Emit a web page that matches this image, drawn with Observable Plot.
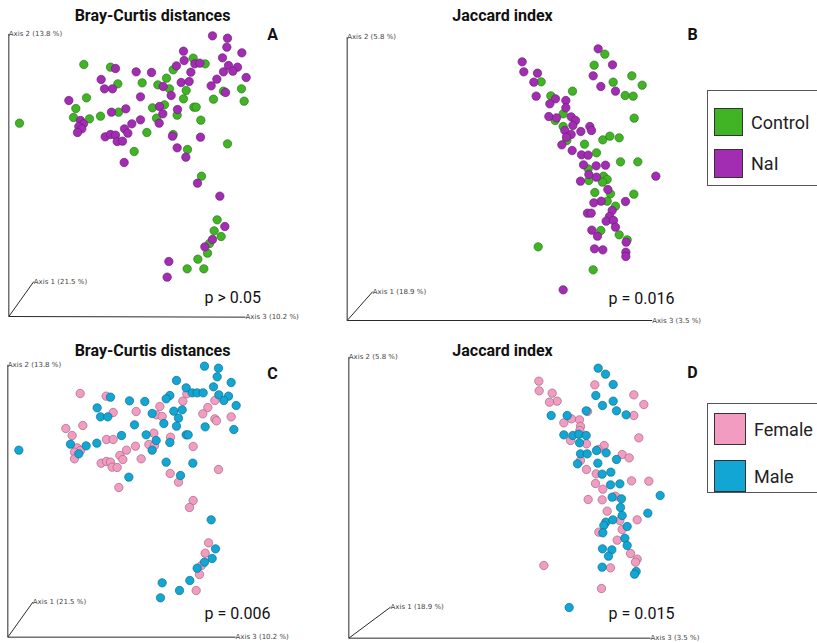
<!DOCTYPE html>
<html>
<head>
<meta charset="utf-8">
<script src="https://cdn.jsdelivr.net/npm/d3@7"></script>
<script src="https://cdn.jsdelivr.net/npm/@observablehq/plot@0.6"></script>
<style>
  body { margin: 0; background: #fff; }
  #root { position: relative; width: 817px; height: 643px; overflow: hidden; background: #fff; font-family: "Liberation Sans", Arial, sans-serif; }
  .panel { position: absolute; }
  .legend { position: absolute; border: 1.5px solid #555; background: #fff; box-sizing: border-box; }
  .legend .row { position: absolute; display: flex; align-items: center; }
  .legend .sw { border: 1.2px solid #333; box-sizing: border-box; }
  .legend .lab { font-family: Roboto, "Liberation Sans", sans-serif; font-size: 18px; color: #222; margin-left: 8px; }
</style>
</head>
<body>
<div id="root"></div>
<script>
// Projected ordination coordinates (arbitrary display units, y grows downward)
const bcControl = [[578,173],[614,190],[250,192],[330,200],[518,208],[352,250],[425,247],[498,233],[472,253],[507,265],[557,270],[669,272],[723,265],[258,292],[549,295],[639,296],[731,302],[226,324],[456,322],[492,313],[354,335],[580,320],[587,320],[219,351],[267,355],[300,347],[468,353],[530,344],[601,359],[57,368],[439,396],[518,402],[681,430],[401,453],[561,447],[603,527],[650,658],[641,691],[662,708],[627,729],[621,758],[592,776],[560,805],[610,805]];
const bcNaI = [[636,106],[681,113],[679,140],[549,152],[724,157],[666,172],[551,180],[528,196],[583,190],[598,188],[684,195],[711,200],[669,214],[697,212],[345,204],[407,214],[453,216],[571,215],[737,231],[649,236],[302,237],[542,246],[566,243],[488,258],[312,265],[336,265],[632,256],[675,276],[420,289],[512,285],[205,300],[477,318],[376,325],[333,335],[531,327],[487,340],[420,358],[240,360],[249,370],[235,378],[244,385],[231,396],[476,368],[394,370],[372,385],[382,398],[314,409],[330,402],[345,404],[350,423],[366,422],[516,407],[600,410],[530,442],[556,470],[371,486],[591,548],[658,587],[673,678],[636,717],[613,739],[505,783],[500,830]];
const jcControl = [[793,161],[761,194],[874,226],[818,245],[905,254],[602,244],[696,272],[854,285],[878,287],[631,286],[668,340],[644,360],[881,353],[668,378],[679,420],[787,418],[808,407],[836,412],[732,431],[768,457],[840,484],[892,484],[743,505],[789,527],[800,537],[745,540],[786,545],[763,576],[810,580],[880,581],[800,602],[825,617],[781,690],[836,703],[860,718],[593,739],[758,808]];
const jcNaI = [[773,145],[545,184],[816,193],[550,214],[591,218],[758,226],[580,245],[781,258],[825,272],[587,287],[645,295],[628,310],[676,300],[676,322],[625,348],[648,352],[692,349],[705,360],[697,375],[673,390],[748,378],[753,390],[721,393],[692,402],[678,410],[664,433],[695,450],[723,463],[743,464],[729,493],[767,496],[795,494],[946,527],[745,522],[768,530],[720,542],[802,567],[782,602],[760,607],[855,603],[815,630],[741,638],[752,638],[807,648],[797,662],[819,660],[825,680],[754,689],[771,707],[857,725],[762,745],[787,748],[856,755],[856,768],[668,868]];
const bcFemale = [[559,175],[239,174],[317,182],[547,197],[643,195],[478,213],[407,228],[338,231],[622,216],[607,235],[468,238],[485,243],[692,244],[643,250],[648,256],[247,270],[196,279],[215,300],[460,293],[510,305],[318,312],[338,312],[445,327],[462,330],[578,333],[230,337],[240,345],[222,350],[405,332],[378,344],[358,360],[367,372],[222,370],[302,383],[318,378],[330,380],[335,395],[350,396],[422,370],[654,402],[509,414],[534,440],[355,456],[578,495],[567,516],[624,622],[614,653],[603,690],[597,717],[587,765]];
const bcMale = [[612,92],[654,98],[650,124],[528,135],[692,141],[557,157],[639,154],[575,172],[590,172],[608,172],[330,185],[508,180],[497,190],[655,178],[684,182],[670,195],[707,210],[387,196],[433,198],[290,217],[520,227],[545,223],[455,234],[534,248],[300,244],[322,244],[490,264],[402,268],[528,272],[614,274],[700,282],[363,300],[437,298],[557,298],[563,298],[467,315],[210,326],[257,331],[289,323],[508,321],[235,355],[55,344],[455,344],[497,380],[577,383],[540,420],[385,425],[632,553],[645,640],[635,669],[612,680],[590,698],[568,735],[485,742],[537,765],[480,787]];
const jcFemale = [[595,137],[763,148],[596,166],[635,173],[650,197],[627,200],[880,178],[910,207],[880,240],[741,228],[693,250],[717,253],[670,262],[720,273],[718,285],[690,315],[738,325],[895,307],[791,330],[773,342],[720,375],[845,357],[866,367],[738,402],[767,415],[873,436],[925,437],[765,444],[787,461],[743,492],[785,493],[825,482],[800,527],[838,555],[890,553],[775,590],[845,582],[830,614],[870,654],[890,671],[885,680],[810,697],[610,690],[783,759]];
const jcMale = [[773,98],[795,116],[818,147],[766,180],[818,197],[786,210],[828,226],[857,238],[737,226],[632,240],[680,240],[670,298],[697,300],[715,296],[737,300],[717,322],[768,345],[797,352],[720,355],[740,355],[711,385],[828,372],[772,383],[785,416],[811,410],[810,448],[838,445],[959,480],[815,485],[843,490],[840,516],[922,533],[845,540],[796,560],[817,553],[790,570],[860,573],[787,592],[853,608],[860,630],[786,640],[814,643],[804,662],[785,695],[887,708],[882,716],[686,816]];

// Axis triads: origin and end points of the three projected axes
const axisLabelsBC = ["Axis 1 (21.5 %)", "Axis 2 (13.8 %)", "Axis 3 (10.2 %)"];
const axisLabelsJC = ["Axis 1 (18.9 %)", "Axis 2 (5.8 %)", "Axis 3 (3.5 %)"];
const axesA = {origin: [25,948], ends: [[100,843],[25,100],[735,950]]};
const axesB = {origin: [20,960], ends: [[97,873],[20,110],[935,960]]};
const axesC = {origin: [22,905], ends: [[97,800],[22,88],[705,905]]};
const axesD = {origin: [25,908], ends: [[150,815],[25,65],[930,908]]};

const treatmentGroups = ["Control", "NaI"];
const treatmentColors = ["#40b424", "#a22db2"];
const sexGroups = ["Female", "Male"];
const sexColors = ["#f29cc2", "#12a6d5"];

const titles = ["Bray-Curtis distances", "Jaccard index"];
const letters = ["A", "B", "C", "D"];
const pValues = ["p > 0.05", "p = 0.016", "p = 0.006", "p = 0.015"];

const root = document.getElementById("root");

function panel(cfg) {
  const {W, H, left, top, series, colors, groups, axes, axisLabels, title, titleX, letter, letterX, letterY, pText, pX, pY} = cfg;
  const axisRows = axes.ends.map((e, i) => ({x1: axes.origin[0], y1: axes.origin[1], x2: e[0], y2: e[1], label: axisLabels[i]}));
  const dotMarks = series.map((arr, i) => Plot.dot(arr, {
    x: d => d[0], y: d => d[1], r: 4.2,
    fill: colors[i], stroke: d3.color(colors[i]).darker(1.3).formatHex(),
    strokeWidth: 0.8, strokeOpacity: 0.8
  }));
  const svg = Plot.plot({
    width: W, height: H,
    margin: 0,
    x: {domain: [0, W * 3], range: [0, W], axis: null},
    y: {domain: [0, H * 3], range: [0, H], axis: null},
    style: {background: "transparent"},
    marks: [
      Plot.link(axisRows, {x1: "x1", y1: "y1", x2: "x2", y2: "y2", stroke: "#2a2a2a", strokeWidth: 1}),
      Plot.text(axisRows, {x: "x2", y: "y2", text: "label", textAnchor: "start", fontSize: 7, fill: "#444", fontFamily: "DejaVu Sans, sans-serif"}),
      ...dotMarks,
      Plot.text([title], {frameAnchor: "top-left", dx: titleX, dy: 15, textAnchor: "middle", lineAnchor: "middle", fontSize: 16, fontWeight: "bold", fill: "#111", fontFamily: "Roboto, Liberation Sans, sans-serif"}),
      Plot.text([letter], {frameAnchor: "top-left", dx: letterX, dy: letterY, textAnchor: "middle", lineAnchor: "middle", fontSize: 16, fontWeight: "bold", fill: "#111", fontFamily: "Roboto, Liberation Sans, sans-serif"}),
      Plot.text([pText], {frameAnchor: "top-left", dx: pX, dy: pY, textAnchor: "start", lineAnchor: "middle", fontSize: 16, fill: "#111", fontFamily: "Roboto, Liberation Sans, sans-serif"})
    ]
  });
  svg.classList.add("panel");
  svg.style.left = left + "px";
  svg.style.top = top + "px";
  svg.style.position = "absolute";
  root.appendChild(svg);
}

panel({W: 340, H: 330, left: 0, top: 0, series: [bcControl, bcNaI], colors: treatmentColors, groups: treatmentGroups, axes: axesA, axisLabels: axisLabelsBC, title: titles[0], titleX: 152, letter: letters[0], letterX: 272, letterY: 34, pText: pValues[0], pX: 204, pY: 297});
panel({W: 370, H: 330, left: 340, top: 0, series: [jcControl, jcNaI], colors: treatmentColors, groups: treatmentGroups, axes: axesB, axisLabels: axisLabelsJC, title: titles[1], titleX: 162, letter: letters[1], letterX: 352, letterY: 34, pText: pValues[1], pX: 268, pY: 298});
panel({W: 340, H: 308, left: 0, top: 335, series: [bcFemale, bcMale], colors: sexColors, groups: sexGroups, axes: axesC, axisLabels: axisLabelsBC, title: titles[0], titleX: 152, letter: letters[2], letterX: 272, letterY: 38, pText: pValues[2], pX: 204, pY: 278});
panel({W: 370, H: 308, left: 340, top: 335, series: [jcFemale, jcMale], colors: sexColors, groups: sexGroups, axes: axesD, axisLabels: axisLabelsJC, title: titles[1], titleX: 162, letter: letters[3], letterX: 352, letterY: 37, pText: pValues[3], pX: 268, pY: 278});

function legend(groups, colors, box, rows) {
  const div = document.createElement("div");
  div.className = "legend";
  Object.assign(div.style, {left: box[0] + "px", top: box[1] + "px", width: box[2] + "px", height: box[3] + "px"});
  groups.forEach((g, i) => {
    const row = document.createElement("div");
    row.className = "row";
    Object.assign(row.style, {left: rows[i][0] + "px", top: rows[i][1] + "px"});
    const sw = document.createElement("div");
    sw.className = "sw";
    Object.assign(sw.style, {width: rows[i][2] + "px", height: rows[i][3] + "px", background: colors[i]});
    const lab = document.createElement("span");
    lab.className = "lab";
    lab.textContent = g;
    row.appendChild(sw); row.appendChild(lab);
    div.appendChild(row);
  });
  root.appendChild(div);
}
legend(treatmentGroups, treatmentColors, [707, 90, 130, 96], [[6, 17, 29, 28], [6, 58, 29, 29]]);
legend(sexGroups, sexColors, [707, 403, 130, 90], [[6, 9, 32, 32], [6, 56, 32, 32]]);
</script>
</body>
</html>
